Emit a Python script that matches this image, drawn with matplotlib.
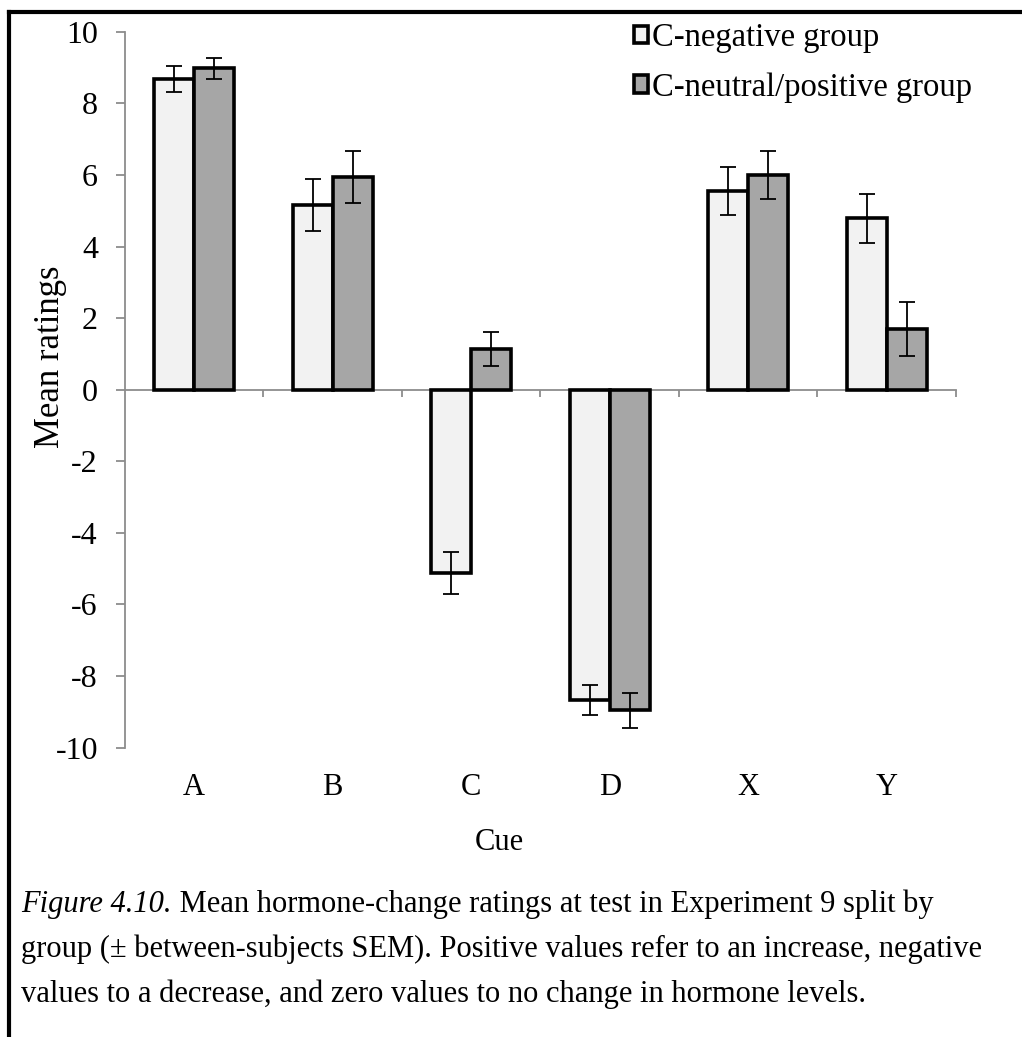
import matplotlib
matplotlib.use('Agg')
import matplotlib.pyplot as plt
import numpy as np
from matplotlib.lines import Line2D
from matplotlib.patches import Patch

plt.rcParams['font.family'] = ['Liberation Serif', 'DejaVu Serif']

cues = ['A', 'B', 'C', 'D', 'X', 'Y']
neg_means = [8.68, 5.15, -5.12, -8.67, 5.55, 4.79]
neg_sem = [0.35, 0.73, 0.60, 0.42, 0.67, 0.69]
pos_means = [8.98, 5.94, 1.13, -8.95, 5.99, 1.70]
pos_sem = [0.30, 0.72, 0.48, 0.49, 0.67, 0.75]
group_labels = ['C-negative group', 'C-neutral/positive group']
colors = ['#f2f2f2', '#a6a6a6']
caption_italic = 'Figure 4.10.'
caption_rest = ' Mean hormone-change ratings at test in Experiment 9 split by'
caption_lines = ['group (\u00b1 between-subjects SEM). Positive values refer to an increase, negative',
                 'values to a decrease, and zero values to no change in hormone levels.']

fig = plt.figure(figsize=(10.22, 10.37), dpi=100)
ax = fig.add_axes([0.1223, 0.2790, 0.8131, 0.6904])

x = np.arange(len(cues))
w = 0.29
for i, (m, e) in enumerate([(neg_means, neg_sem), (pos_means, pos_sem)]):
    pos = x + (i - 0.5) * w
    ax.bar(pos, m, width=w, color=colors[i], edgecolor='black', linewidth=2.6, zorder=2)
    ax.errorbar(pos, m, yerr=e, fmt='none', ecolor='black', elinewidth=1.3,
                capsize=6, capthick=1.3, zorder=3)

ax.set_xlim(-0.5, 5.5)
ax.set_ylim(-10, 10)
ax.set_yticks(np.arange(-10, 11, 2))
ax.set_yticklabels([str(v) for v in range(-10, 11, 2)], fontsize=23)
ax.tick_params(axis='y', direction='out', length=6.5, width=1.3, color='#8c8c8c', pad=13)

ax.spines['top'].set_visible(False)
ax.spines['right'].set_visible(False)
ax.spines['left'].set_color('#8c8c8c')
ax.spines['left'].set_linewidth(1.3)
ax.spines['bottom'].set_position(('data', 0))
ax.spines['bottom'].set_color('#8c8c8c')
ax.spines['bottom'].set_linewidth(1.3)
ax.spines['bottom'].set_zorder(1)
ax.set_xticks(x[:-1] + 0.5)
ax.set_xticks([5.5], minor=True)
ax.set_xticklabels([])
ax.tick_params(axis='x', which='both', direction='out', length=5, width=1.3, color='#8c8c8c')

for xi, c in zip(x, cues):
    ax.text(xi, -0.055, c, transform=ax.get_xaxis_transform(), ha='center', va='center', fontsize=22)

fig.text(0.489, 0.188, 'Cue', ha='center', va='center', fontsize=22)
fig.text(0.049, 0.656, 'Mean ratings', ha='center', va='center', rotation=90, fontsize=25)

handles = [Patch(facecolor=colors[i], edgecolor='black', linewidth=2.6) for i in range(2)]
fig.legend(handles, group_labels, loc='upper left', bbox_to_anchor=(0.620, 0.978),
           frameon=False, fontsize=23.5, handlelength=0.45, handleheight=0.45,
           handletextpad=0.12, labelspacing=0.58, borderaxespad=0, borderpad=0)

# figure frame
fig.add_artist(Line2D([0.0088, 1.0], [0.9884, 0.9884], color='black', linewidth=3))
fig.add_artist(Line2D([0.0088, 0.0088], [0.0, 0.9884], color='black', linewidth=3))

# caption
y0 = 0.114
t1 = fig.text(0.021, y0, caption_italic, style='italic', fontsize=22, va='bottom', ha='left')
ax.annotate(caption_rest, xy=(1, 0), xycoords=t1, va='bottom', ha='left', fontsize=22,
            annotation_clip=False)
for k, line in enumerate(caption_lines):
    fig.text(0.021, y0 - (k + 1) * 0.0434, line, fontsize=22, va='bottom', ha='left')

fig.savefig('out.png', dpi=100)
